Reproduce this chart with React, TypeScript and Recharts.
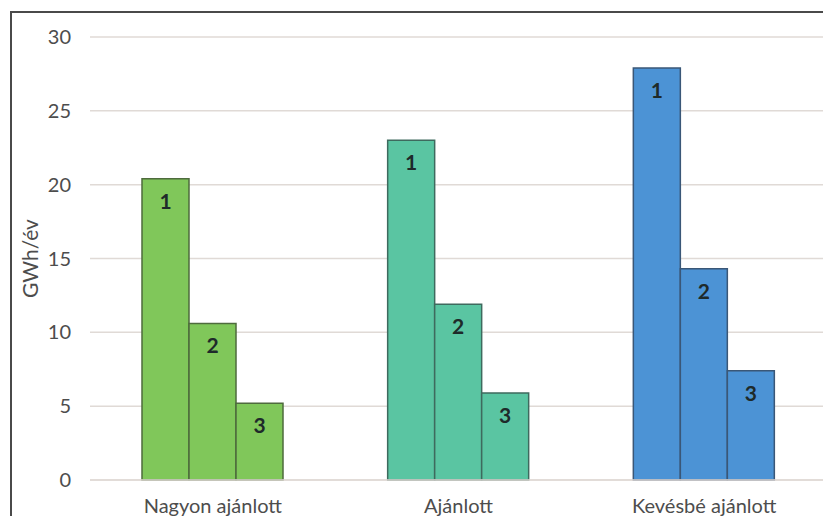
import React from 'react';
import { BarChart, Bar, XAxis, YAxis, CartesianGrid, Cell, LabelList } from 'recharts';

const categories = ['Nagyon ajánlott', 'Ajánlott', 'Kevésbé ajánlott'];
const option1 = [20.4, 23.0, 27.9];
const option2 = [10.6, 11.9, 14.3];
const option3 = [5.2, 5.9, 7.4];
const barLabels = ['1', '2', '3'];
const yTicks = [0, 5, 10, 15, 20, 25, 30];
const yAxisTitle = 'GWh/év';

const fills = ['#80c75a', '#5ac5a2', '#4c93d5'];
const strokes = ['#4e6b3d', '#3e6a5e', '#3a5777'];

const data = categories.map((c, i) => ({
  name: c,
  v1: option1[i],
  v2: option2[i],
  v3: option3[i],
}));

const seriesKeys = ['v1', 'v2', 'v3'];

const FONT = 'Lato, "Open Sans", sans-serif';

export default function App() {
  return (
    <div style={{ position: 'fixed', left: 0, top: 0, width: 823, height: 516, overflow: 'hidden', background: '#fff' }}>
      <div
        style={{
          position: 'absolute',
          left: 10,
          top: 11,
          width: 900,
          height: 600,
          borderTop: '2px solid #4a4a4a',
          borderLeft: '2px solid #4a4a4a',
        }}
      />
      <div style={{ position: 'absolute', left: 0, top: 0 }}>
        <BarChart
          width={830}
          height={516}
          data={data}
          margin={{ top: 37, right: 3, bottom: 0, left: 10 }}
          barCategoryGap={52}
          barGap={0}
        >
          <CartesianGrid horizontal vertical={false} stroke="#e0dad6" strokeWidth={1.5} />
          <XAxis
            dataKey="name"
            axisLine={{ stroke: '#e0dad6', strokeWidth: 1.5 }}
            tickLine={false}
            height={36}
            tickMargin={13}
            tick={{ fill: '#4d4d4d', fontSize: 20, fontFamily: FONT }}
            interval={0}
          />
          <YAxis
            width={80}
            domain={[0, 30]}
            ticks={yTicks}
            axisLine={false}
            tickLine={false}
            tickMargin={13}
            tick={{ fill: '#4d4d4d', fontSize: 20, fontFamily: FONT }}
            label={(props: any) => {
              const vb = props.viewBox || {};
              const cx = (vb.x ?? 10) + 19;
              const cy = (vb.y ?? 37) + (vb.height ?? 443) / 2;
              return (
                <text
                  x={cx}
                  y={cy}
                  transform={`rotate(-90, ${cx}, ${cy})`}
                  textAnchor="middle"
                  dominantBaseline="central"
                  fill="#4d4d4d"
                  fontSize={21}
                  fontFamily={FONT}
                >
                  {yAxisTitle}
                </text>
              );
            }}
          />
          {seriesKeys.map((k, si) => (
            <Bar key={k} dataKey={k} isAnimationActive={false} strokeWidth={1.5}>
              {data.map((d, i) => (
                <Cell key={i} fill={fills[i]} stroke={strokes[i]} />
              ))}
              <LabelList
                dataKey={k}
                position="insideTop"
                offset={15}
                formatter={() => barLabels[si]}
                fill="#1e2a2a"
                fontSize={21}
                fontWeight="bold"
                fontFamily={FONT}
              />
            </Bar>
          ))}
        </BarChart>
      </div>
    </div>
  );
}
